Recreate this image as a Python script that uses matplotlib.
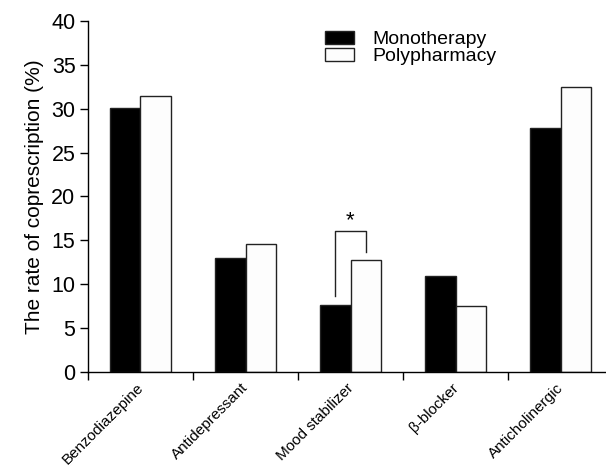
import numpy as np
import matplotlib
matplotlib.use('Agg')
import matplotlib.pyplot as plt

plt.rcParams['font.family'] = ['Liberation Sans', 'DejaVu Sans']

categories = ['Benzodiazepine', 'Antidepressant', 'Mood stabilizer', 'β-blocker', 'Anticholinergic']
mono = [30.1, 13.0, 7.7, 10.9, 27.8]
poly = [31.4, 14.6, 12.8, 7.55, 32.5]

fig = plt.figure(figsize=(6.06, 4.67), dpi=100)
ax = fig.add_axes([0.1452, 0.2028, 0.8664, 0.7529])

x = np.arange(len(categories)) + 0.5
w = 0.29
ax.bar(x - w/2, mono, w, color='black', edgecolor='#222222', linewidth=1, label='Monotherapy')
ax.bar(x + w/2, poly, w, color='#fdfdfd', edgecolor='#222222', linewidth=1, label='Polypharmacy')

# significance bracket on mood stabilizer
i = 2
ax.plot([x[i] - w/2, x[i] - w/2, x[i] + w/2, x[i] + w/2],
        [mono[i] + 1.0, 16.1, 16.1, poly[i] + 0.85], color='#222222', lw=1)
ax.text(x[i], 16.0, '*', ha='center', va='bottom', fontsize=16)

ax.set_xlim(0, 5)
ax.set_ylim(0, 40)
ax.set_yticks(range(0, 41, 5))
ax.set_xticks(range(5))
ax.set_xticklabels([])
ax.set_xticks(x - 0.04, minor=True)
ax.set_xticklabels(categories, minor=True, rotation=45, ha='right',
                   rotation_mode='anchor', fontsize=11)
ax.tick_params(axis='x', which='minor', length=0, pad=6)
ax.tick_params(axis='x', which='major', length=6, width=1)
ax.tick_params(axis='y', labelsize=15.5, length=6, width=1, pad=3)
ax.set_ylabel('The rate of coprescription (%)', fontsize=15, labelpad=5)

for s in ['top', 'right']:
    ax.spines[s].set_visible(False)
ax.spines['left'].set_linewidth(1)
ax.spines['bottom'].set_linewidth(1)

ax.legend(loc='upper left', bbox_to_anchor=(0.418, 1.02), frameon=False,
          fontsize=14, handlelength=1.5, handleheight=0.6,
          handletextpad=0.95, labelspacing=0.0)

plt.savefig('out.png', dpi=100)
